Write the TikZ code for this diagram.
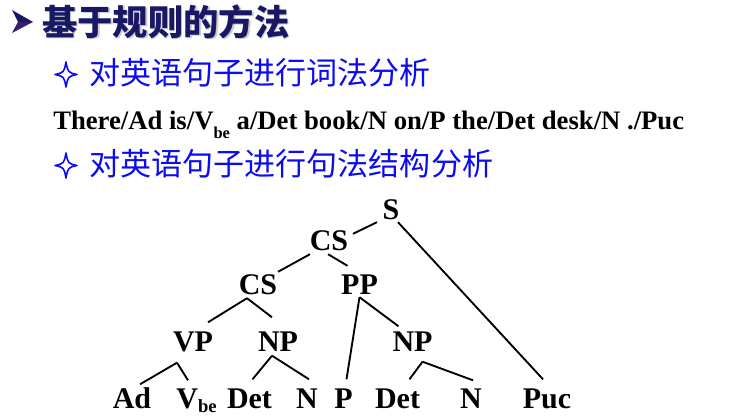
\documentclass[tikz,border=0pt]{standalone}
\usepackage{fontspec}
\setmainfont{Liberation Serif}
\newfontfamily\cjk{Noto Sans CJK SC}
\usetikzlibrary{calc}

\definecolor{titlenavy}{RGB}{24,24,100}
\definecolor{arrowlow}{RGB}{52,30,110}
\definecolor{subblue}{RGB}{12,12,238}
\newcommand{\lowsub}[2][0.32em]{\raisebox{-#1}{\scalebox{0.62}{#2}}}

\begin{document}
\begin{tikzpicture}[
  x=0.75pt, y=-0.75pt,
  headline/.style={anchor=base west, inner sep=0pt},
  subhead/.style={headline, text=subblue, font=\cjk\fontsize{23.3}{26}\selectfont},
  starline/.style={draw=subblue, line width=1.2pt, line join=round},
  lab/.style={font=\fontsize{22.5}{24}\selectfont\bfseries, inner sep=0pt, text height=14.9pt, text depth=0pt},
  branch/.style={line width=1.4pt}
]
\useasboundingbox (0,0) rectangle (749,417);

% title with bullet
\fill[titlenavy] (12,10) -- (33,22) -- (18,22) -- cycle;
\fill[arrowlow]  (18,22) -- (33,22) -- (12,33) -- cycle;
\node[headline, text=gray!40, font=\cjk\bfseries\fontsize{26.5}{30}\selectfont] (titleshadow) at (43.5,37) {基于规则的方法};
\node[headline, text=titlenavy, font=\cjk\bfseries\fontsize{26.5}{30}\selectfont] (title) at (42,35.5) {基于规则的方法};

% sub items
\foreach \y in {74.5,165.5}
  \draw[starline] (66,\y-12.5) .. controls (68,\y-2) .. (77,\y) .. controls (68,\y+2) .. (66,\y+12.5)
    .. controls (64,\y+2) .. (55,\y) .. controls (64,\y-2) .. cycle;
\node[subhead] (lexis) at (89,84.8) {对英语句子进行词法分析};
\node[headline, font=\fontsize{20}{22}\selectfont\bfseries] (tagged) at (53,130)
  {There/Ad is/V\lowsub{be} a/Det book/N on/P the/Det desk/N ./Puc};
\node[subhead] (syntax) at (89,175.8) {对英语句子进行句法结构分析};

% parse tree
\node[lab] (S)      at (391,210)   {S};
\node[lab] (CStop)  at (329,241)   {CS};
\node[lab] (CSleft) at (258,285)   {CS};
\node[lab] (PP)     at (359.5,285) {PP};
\node[lab] (VP)     at (193,341.5) {VP};
\node[lab] (NPl)    at (278,341.5) {NP};
\node[lab] (NPr)    at (412.5,341.5) {NP};

\foreach \n/\x/\t in {Ad/132/Ad, Vbe/196.5/{V\lowsub[0.12em]{be}}, Det/249.5/Det, N/307/N,
                      P/343.5/P, Det2/397.5/Det, N2/471/N, Puc/547/Puc}
  \node[lab] (\n) at (\x,398.5) {\t};

\foreach \p/\px/\py/\c/\cx/\cy in {S/-14/2/CStop/24/3, S/7/2/Puc/-4/-9,
    CStop/-19/3/CSleft/20/-3, CStop/-1/3/PP/-12/-9,
    CSleft/-11/3/VP/15/-9, CSleft/-11/3/NPl/-6/-14,
    PP/0/2/P/3/-9, PP/0/2/NPr/-14/-5,
    VP/-16/11/Ad/8/-4, VP/-16/11/Vbe/-8.5/-8,
    NPl/-6/4/Det/3/-9, NPl/-6/4/N/2/-9,
    NPr/10/10/Det2/12/-9, NPr/10/10/N2/2/-8}
  \draw[branch] ($(\p.south)+(\px,\py)$) -- ($(\c.north)+(\cx,\cy)$);

\end{tikzpicture}
\end{document}
